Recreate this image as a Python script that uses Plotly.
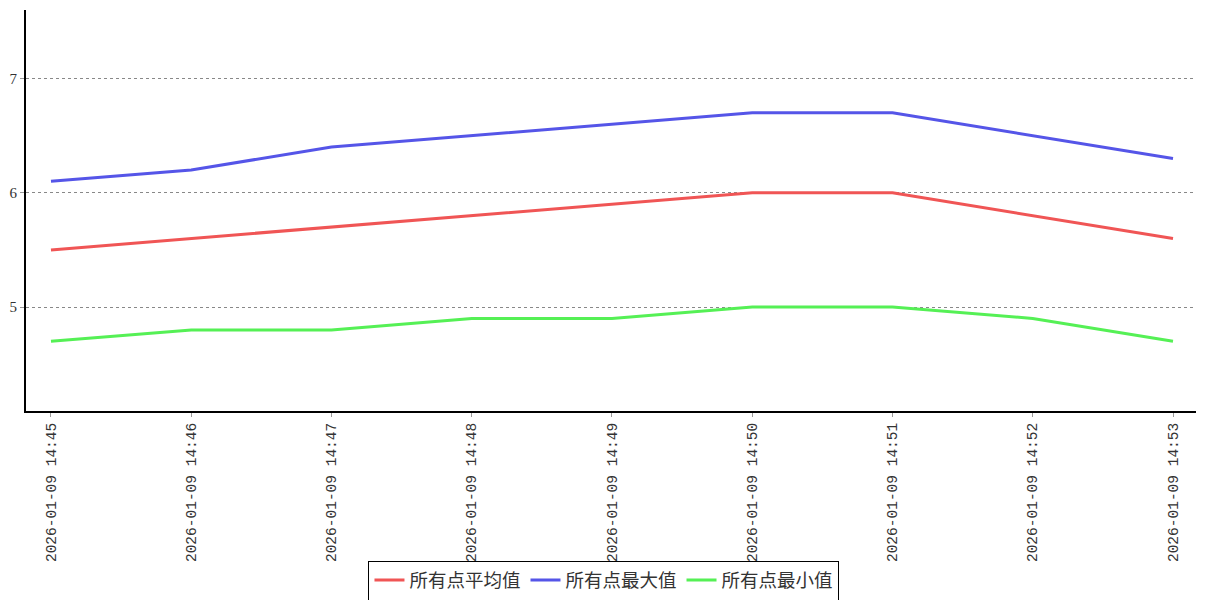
import plotly.graph_objects as go

times = ["2026-01-09 14:45", "2026-01-09 14:46", "2026-01-09 14:47", "2026-01-09 14:48",
         "2026-01-09 14:49", "2026-01-09 14:50", "2026-01-09 14:51", "2026-01-09 14:52",
         "2026-01-09 14:53"]
avg_vals = [5.5, 5.6, 5.7, 5.8, 5.9, 6.0, 6.0, 5.8, 5.6]
max_vals = [6.1, 6.2, 6.4, 6.5, 6.6, 6.7, 6.7, 6.5, 6.3]
min_vals = [4.7, 4.8, 4.8, 4.9, 4.9, 5.0, 5.0, 4.9, 4.7]
names = ["所有点平均值", "所有点最大值", "所有点最小值"]
colors = ["#f05555", "#5555e8", "#55f055"]

fig = go.Figure()
for name, vals, c in zip(names, [avg_vals, max_vals, min_vals], colors):
    fig.add_trace(go.Scatter(x=times, y=vals, mode="lines", name=name,
                             line=dict(color=c, width=3)))

# page body has an 8px margin, so the figure is sized to fill the rest of the window
fig.update_layout(
    width=1199, height=592,
    margin=dict(l=18, r=11, t=2, b=189, autoexpand=False),
    plot_bgcolor="white", paper_bgcolor="white",
    font=dict(family="Liberation Serif, DejaVu Serif, serif", color="#333"),
    legend=dict(orientation="h", x=0.494, xanchor="center", y=-0.373, yanchor="top",
                bordercolor="black", borderwidth=1,
                font=dict(family="Noto Sans CJK SC", size=18.5, color="#333"),
                itemwidth=30, tracegroupgap=0),
    showlegend=True,
)
fig.update_xaxes(type="category", range=[-0.178, 8.164], showline=True, linecolor="black",
                 linewidth=2, ticks="outside", ticklen=4, tickcolor="#999",
                 tickangle=-90, showgrid=False, automargin=False,
                 tickfont=dict(family="Liberation Mono, DejaVu Sans Mono, monospace", size=14.5, color="#333"))
fig.update_yaxes(range=[4.09, 7.6], tickvals=[5, 6, 7], showline=True, linecolor="black",
                 linewidth=2, ticks="outside", ticklen=4, tickcolor="#999",
                 showgrid=True, gridcolor="#888", griddash="dot", gridwidth=1,
                 zeroline=False, automargin=False,
                 tickfont=dict(family="Liberation Serif, DejaVu Serif, serif", size=15, color="#333"))

fig.write_html("out.html")
